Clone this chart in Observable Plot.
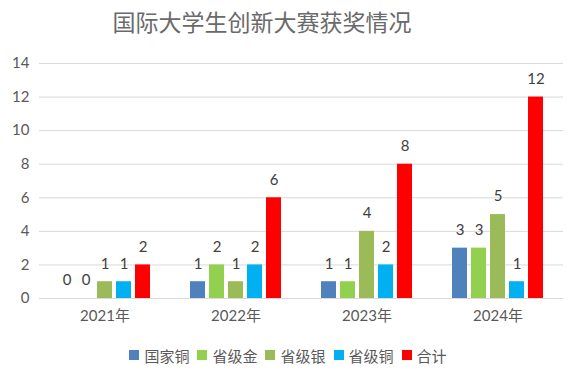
<!DOCTYPE html>
<html>
<head>
<meta charset="utf-8">
<script src="https://cdn.jsdelivr.net/npm/d3@7"></script>
<script src="https://cdn.jsdelivr.net/npm/@observablehq/plot@0.6"></script>
<style>
  body { margin: 0; background: #fff; font-family: Lato, "Noto Sans CJK SC", sans-serif; }
  #wrap { width: 580px; height: 381px; position: relative; }
  #title { height: 45px; line-height: 45px; font-size: 23px; font-weight: 400; color: #6a6a6a; text-align: center; padding-right: 56px; box-sizing: border-box; white-space: nowrap; }
  #legend { height: 40px; display: flex; justify-content: center; align-items: center; gap: 8px; font-size: 15px; color: #595959; padding-right: 4px; }
  .item { display: flex; align-items: center; gap: 5px; }
  .sw { width: 10px; height: 10px; display: inline-block; }
</style>
</head>
<body>
<div id="wrap">
  <div id="title">国际大学生创新大赛获奖情况</div>
  <div id="chart"></div>
  <div id="legend"></div>
</div>
<script>
const years = ["2021年", "2022年", "2023年", "2024年"];
const series = ["国家铜", "省级金", "省级银", "省级铜", "合计"];
const guojiaTong = [0, 1, 1, 3];
const shengjiJin = [0, 2, 1, 3];
const shengjiYin = [1, 1, 4, 5];
const shengjiTong = [1, 2, 2, 1];
const heji = [2, 6, 8, 12];
const yTicks = [0, 2, 4, 6, 8, 10, 12, 14];
const colors = ["#4F81BD", "#92D050", "#9BBB59", "#00B0F0", "#FF0000"];

const values = [guojiaTong, shengjiJin, shengjiYin, shengjiTong, heji];
const data = years.flatMap((y, i) => series.map((s, j) => ({year: y, series: s, value: values[j][i]})));

const chart = Plot.plot({
  width: 580,
  height: 290,
  marginLeft: 39,
  marginRight: 17,
  marginTop: 18,
  marginBottom: 37,
  style: {fontSize: "15px", fontFamily: 'Lato, "Noto Sans CJK SC", sans-serif', color: "#595959", background: "#fff"},
  fx: {domain: years, padding: 0, label: null, axis: "bottom", tickSize: 0, tickPadding: 12},
  x: {domain: series, axis: null, paddingInner: 0.225, paddingOuter: 0.8875},
  y: {domain: [0, 14], ticks: yTicks, label: null, tickSize: 0, tickPadding: 10},
  color: {domain: series, range: colors},
  marks: [
    Plot.ruleY(yTicks, {stroke: "#d9d9d9", strokeWidth: 1}),
    Plot.barY(data, {fx: "year", x: "series", y: "value", fill: "series"}),
    Plot.text(data, {fx: "year", x: "series", y: "value", text: d => String(d.value), dy: -18, fill: "#404040", fontSize: 15})
  ]
});
document.getElementById("chart").appendChild(chart);

const legend = document.getElementById("legend");
series.forEach((s, i) => {
  const item = document.createElement("span");
  item.className = "item";
  const sw = document.createElement("span");
  sw.className = "sw";
  sw.style.background = colors[i];
  const t = document.createElement("span");
  t.textContent = s;
  item.appendChild(sw);
  item.appendChild(t);
  legend.appendChild(item);
});
</script>
</body>
</html>
